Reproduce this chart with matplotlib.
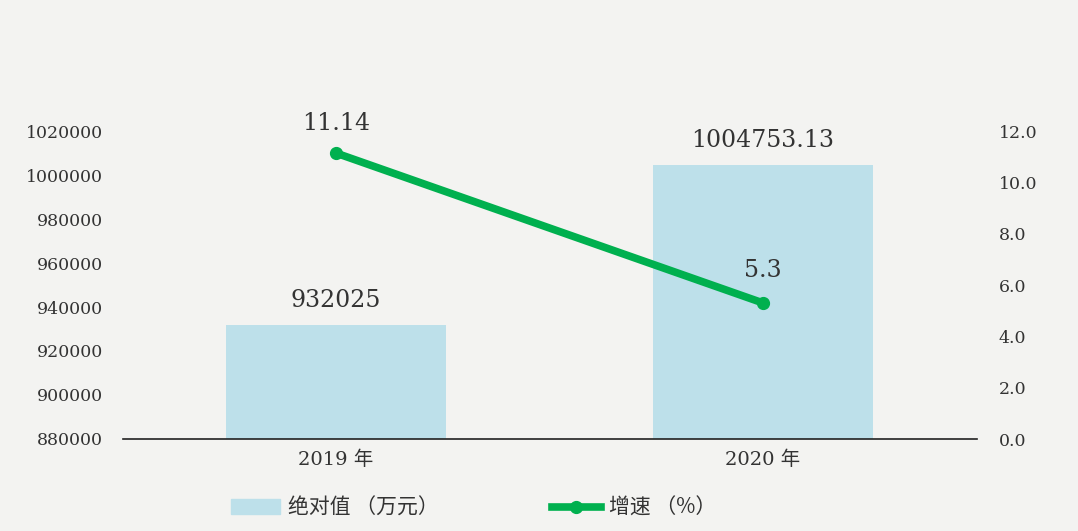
import matplotlib
matplotlib.use("Agg")
import matplotlib.pyplot as plt
from matplotlib.lines import Line2D
from matplotlib.patches import Patch

plt.rcParams["font.family"] = ["DejaVu Serif", "Noto Sans CJK SC"]

# 数据
years = ["2019 年", "2020 年"]
values = [932025, 1004753.13]
value_labels = ["932025", "1004753.13"]
growth = [11.14, 5.3]
growth_labels = ["11.14", "5.3"]
left_ticks = [880000, 900000, 920000, 940000, 960000, 980000, 1000000, 1020000]
right_ticks = [0, 2, 4, 6, 8, 10, 12]

BG = "#f3f3f1"
BAR = "#bde0ea"
GREEN = "#00b04f"
TXT = "#333333"

fig = plt.figure(figsize=(10.78, 5.31), dpi=100, facecolor=BG)
W, H = 1078, 531
ax = fig.add_axes([122.5 / W, 1 - 439 / H, 854 / W, 308 / H])
ax.set_facecolor(BG)

x = list(range(len(years)))
ax.bar(x, values, width=0.513, color=BAR, zorder=2)
for xi, v, s in zip(x, values, value_labels):
    ax.annotate(s, (xi, v), xytext=(0, 9), textcoords="offset points",
                ha="center", va="bottom", fontsize=17, color=TXT)

ax.set_xlim(-0.5, 1.5)
ax.set_ylim(880000, 1020000)
ax.set_yticks(left_ticks)
ax.set_yticklabels([str(t) for t in left_ticks], fontsize=12.5, color=TXT)
ax.set_xticks(x)
ax.set_xticklabels(years, fontsize=14, color=TXT)
ax.tick_params(axis="y", length=0, pad=14)
ax.tick_params(axis="x", length=0, pad=8)
for sp in ["top", "left", "right"]:
    ax.spines[sp].set_visible(False)
ax.spines["bottom"].set_color("#222222")
ax.spines["bottom"].set_linewidth(1.2)

ax2 = ax.twinx()
ax2.plot(x, growth, color=GREEN, lw=5.5, marker="o", ms=8.5, zorder=3)
for xi, g, s, dy in zip(x, growth, growth_labels, [13, 15]):
    ax2.annotate(s, (xi, g), xytext=(0, dy), textcoords="offset points",
                 ha="center", va="bottom", fontsize=17, color=TXT)
ax2.set_ylim(0, 12)
ax2.set_yticks(right_ticks)
ax2.set_yticklabels([f"{t:.1f}" for t in right_ticks], fontsize=12.5, color=TXT)
ax2.tick_params(axis="y", length=0, pad=16)
for sp in ["top", "left", "right", "bottom"]:
    ax2.spines[sp].set_visible(False)

# 图例（两个，分别定位）
legend_items = [
    (Patch(color=BAR), "绝对值 （万元）", 231),
    (Line2D([], [], color=GREEN, lw=5.5, marker="o", ms=8.5), "增速 （%）", 552),
]
for handle, label, x0 in legend_items:
    leg = fig.legend([handle], [label], loc="center left",
                     bbox_to_anchor=(x0 / W, 1 - 508 / H), frameon=False,
                     borderpad=0, borderaxespad=0, handlelength=2.35,
                     handleheight=0.75, handletextpad=0.4,
                     prop={"family": ["Noto Sans CJK SC"], "size": 15})
    for t in leg.get_texts():
        t.set_color(TXT)

fig.savefig("out.png", dpi=100, facecolor=BG)
